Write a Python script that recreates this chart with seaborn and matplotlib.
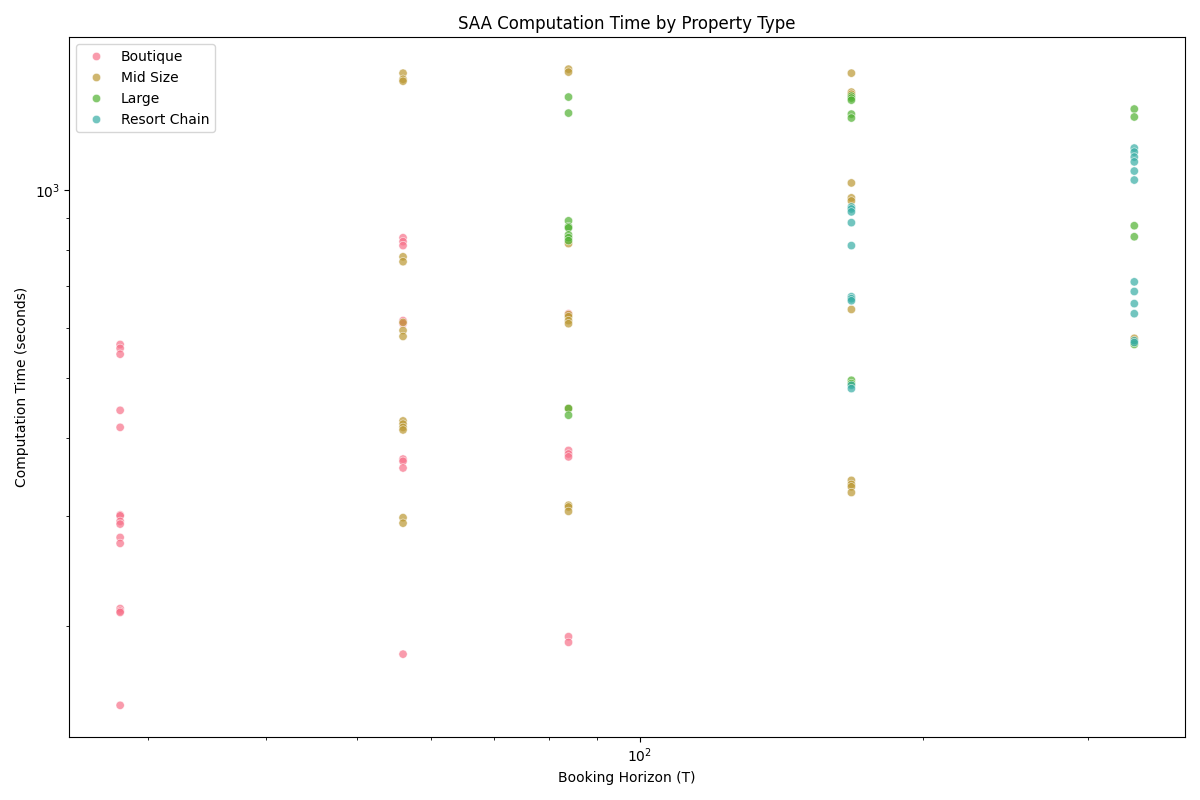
import numpy as np
import pandas as pd
import seaborn as sns
import matplotlib
matplotlib.use("Agg")
import matplotlib.pyplot as plt

# values, grouped by property type and horizon T
property_types = ['Boutique', 'Mid Size', 'Large', 'Resort Chain']

boutique_T = [28] * 15 + [56] * 9 + [84] * 6
boutique_time = [565, 557, 545, 443, 416, 301, 300, 294, 291, 277, 271, 213, 211, 210, 149,
                 838, 826, 814, 617, 610, 370, 367, 358, 180,
                 633, 382, 377, 373, 192, 188]

midsize_T = [56] * 14 + [84] * 11 + [168] * 11 + [336] * 1
midsize_time = [1539, 1505, 1494, 781, 767, 613, 595, 582, 426, 421, 416, 412, 298, 292,
                1562, 1545, 820, 631, 626, 617, 610, 446, 312, 310, 305,
                1539, 1435, 1424, 1026, 971, 960, 643, 342, 337, 334, 327,
                578]

large_T = [84] * 10 + [168] * 7 + [336] * 5
large_time = [1409, 1328, 892, 873, 869, 847, 838, 829, 446, 435,
              1414, 1404, 1393, 1323, 1304, 495, 489,
              1348, 1309, 876, 841, 565]

resort_T = [168] * 10 + [336] * 12
resort_time = [939, 932, 922, 886, 814, 674, 669, 664, 486, 480,
               1167, 1150, 1129, 1109, 1072, 1037, 712, 687, 657, 633, 573, 569]

df = pd.concat([
    pd.DataFrame({'T': boutique_T, 'time': boutique_time, 'property': 'Boutique'}),
    pd.DataFrame({'T': midsize_T, 'time': midsize_time, 'property': 'Mid Size'}),
    pd.DataFrame({'T': large_T, 'time': large_time, 'property': 'Large'}),
    pd.DataFrame({'T': resort_T, 'time': resort_time, 'property': 'Resort Chain'}),
], ignore_index=True)

palette = sns.color_palette('husl', 6)[:4]

fig, ax = plt.subplots(figsize=(12, 8))
sns.scatterplot(data=df, x='T', y='time', hue='property', hue_order=property_types,
                palette=palette, alpha=0.7, ax=ax)
ax.set_xscale('log')
ax.set_yscale('log')
ax.set_title('SAA Computation Time by Property Type')
ax.set_xlabel('Booking Horizon (T)')
ax.set_ylabel('Computation Time (seconds)')
ax.legend(loc='upper left')
plt.tight_layout()
plt.savefig('out.png', dpi=100)
